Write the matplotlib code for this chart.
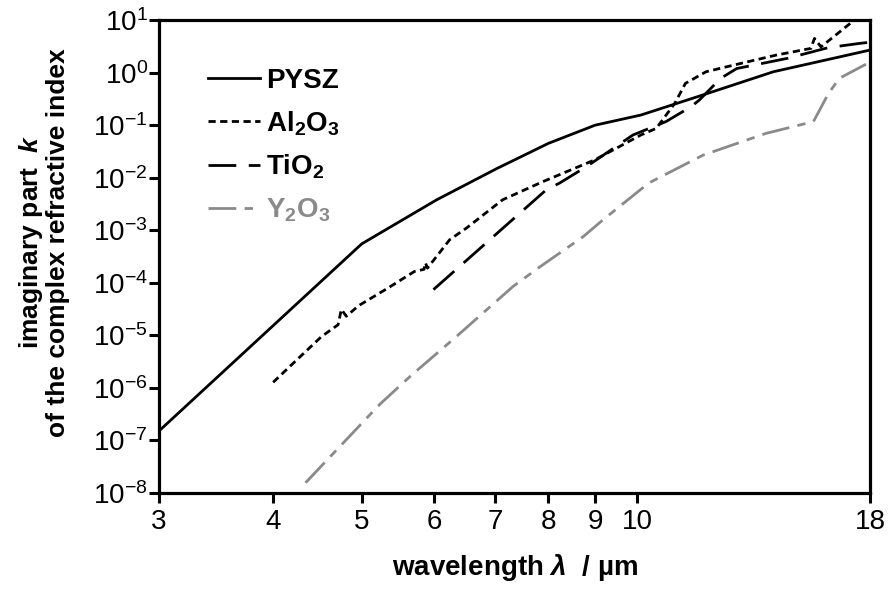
import numpy as np
import matplotlib
matplotlib.use("Agg")
import matplotlib.pyplot as plt
from matplotlib.ticker import FixedLocator, FixedFormatter, LogLocator, NullLocator

plt.rcParams["font.family"] = ["Liberation Sans", "DejaVu Sans"]
plt.rcParams["mathtext.fontset"] = "custom"
plt.rcParams["mathtext.rm"] = "Liberation Sans"
plt.rcParams["mathtext.it"] = "Liberation Sans:bold:italic"
plt.rcParams["mathtext.bf"] = "Liberation Sans:bold"

# valeurs (lambda en um, k)
wl_pysz = [3.0, 5.0, 6.04, 7.03, 8.0, 9.0, 10.1, 11.8, 14.1, 18.0]
k_pysz = [1.5e-7, 5.5e-4, 3.8e-3, 0.015, 0.045, 0.1, 0.156, 0.375, 1.04, 2.7]

wl_al2o3 = [4.0, 4.23, 4.52, 4.71, 4.75, 4.81, 4.96, 5.34, 5.71, 5.85, 5.87, 5.90,
            6.24, 6.51, 7.13, 7.89, 9.0, 10.1, 10.5, 11.0, 11.3, 11.9, 12.75,
            14.2, 15.5, 15.64, 15.9, 17.2, 18.0]
k_al2o3 = [1.27e-6, 3.2e-6, 9.5e-6, 1.58e-5, 3.1e-5, 2.3e-5, 3.65e-5, 7.9e-5, 1.64e-4,
           1.8e-4, 2.4e-4, 1.9e-4, 6.6e-4, 1.1e-3, 3.8e-3, 8.4e-3, 0.022, 0.065, 0.087,
           0.26, 0.625, 1.04, 1.39, 2.16, 2.9, 4.5, 3.1, 9.3, 14.0]

wl_tio2 = [5.99, 7.96, 8.23, 8.74, 9.0, 9.9, 10.76, 11.46, 11.7, 12.35, 12.86,
           14.6, 16.2, 17.5, 18.0]
k_tio2 = [7.4e-5, 5.9e-3, 7.9e-3, 0.015, 0.021, 0.065, 0.117, 0.225, 0.3, 0.78, 1.2,
          1.87, 3.0, 3.6, 3.8]

wl_y2o3 = [4.34, 5.23, 5.66, 6.04, 6.37, 7.32, 7.83, 8.74, 9.19, 10.3, 11.82,
           13.85, 15.6, 16.2, 16.65, 18.0]
k_y2o3 = [1.55e-8, 4.8e-7, 1.7e-6, 4.5e-6, 1.0e-5, 8.5e-5, 2e-4, 7.6e-4, 1.6e-3,
          7.9e-3, 0.027, 0.07, 0.117, 0.4, 0.78, 1.6]

xticks = [3, 4, 5, 6, 7, 8, 9, 10, 18]

fig = plt.figure(figsize=(8.88, 5.93), dpi=100)
ax = fig.add_axes([0.179, 0.169, 0.801, 0.797])

lw = 2.0
ax.plot(wl_pysz, k_pysz, color="black", lw=lw, label="PYSZ")
ax.plot(wl_al2o3, k_al2o3, color="black", lw=lw, dashes=(2.6, 1.6),
        label=r"Al$_\mathbf{2}$O$_\mathbf{3}$")
ax.plot(wl_tio2, k_tio2, color="black", lw=lw, dashes=(10, 4.5),
        label=r"TiO$_\mathbf{2}$")
ax.plot(wl_y2o3, k_y2o3, color="#8a8a8a", lw=lw, dashes=(10, 3, 3, 3),
        label=r"Y$_\mathbf{2}$O$_\mathbf{3}$")

ax.set_xscale("log")
ax.set_yscale("log")
ax.set_xlim(3, 18)
ax.set_ylim(1e-8, 1e1)

ax.xaxis.set_major_locator(FixedLocator(xticks))
ax.xaxis.set_major_formatter(FixedFormatter([str(t) for t in xticks]))
ax.xaxis.set_minor_locator(NullLocator())
ax.yaxis.set_major_locator(LogLocator(base=10, numticks=20))
ax.yaxis.set_minor_locator(NullLocator())

for s in ax.spines.values():
    s.set_linewidth(2.3)
ax.tick_params(axis="both", which="major", direction="out", length=7, width=2.2,
               labelsize=20, top=False, right=False)
ax.tick_params(axis="y", pad=1)
ax.tick_params(axis="x", pad=5)

ax.set_xlabel(r"wavelength $\lambda$  / µm", fontsize=20, fontweight="bold")
ax.xaxis.set_label_coords(0.5, -0.125)
ax.set_ylabel("imaginary part  $k$\nof the complex refractive index", fontsize=19,
              fontweight="bold", linespacing=1.05)
ax.yaxis.set_label_coords(-0.125, 0.53)

leg = ax.legend(loc="upper left", bbox_to_anchor=(0.034, 0.952), frameon=False,
                handlelength=1.85, handletextpad=0.25, labelspacing=0.55,
                labelcolor="linecolor", prop={"weight": "bold", "size": 20})

fig.savefig("out.png", dpi=100)
